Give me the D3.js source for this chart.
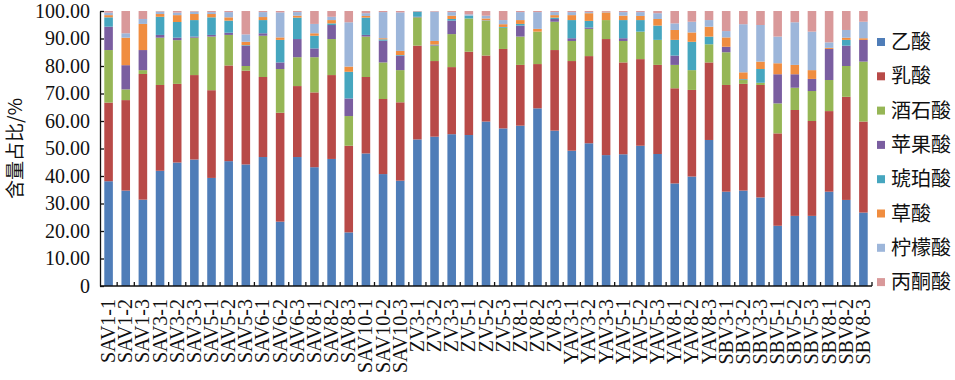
<!DOCTYPE html>
<html>
<head>
<meta charset="utf-8">
<script src="https://cdn.jsdelivr.net/npm/d3@7"></script>
<style>
  body { margin: 0; background: #fff; }
  svg text { fill: #111; }
</style>
</head>
<body>
<div id="chart"></div>
<script>
const samples = ['SAV1-1','SAV1-2','SAV1-3','SAV3-1','SAV3-2','SAV3-3','SAV5-1','SAV5-2','SAV5-3',
  'SAV6-1','SAV6-2','SAV6-3','SAV8-1','SAV8-2','SAV8-3','SAV10-1','SAV10-2','SAV10-3',
  'ZV3-1','ZV3-2','ZV3-3','ZV5-1','ZV5-2','ZV5-3','ZV8-1','ZV8-2','ZV8-3',
  'YAV3-1','YAV3-2','YAV3-3','YAV5-1','YAV5-2','YAV5-3','YAV8-1','YAV8-2','YAV8-3',
  'SBV3-1','SBV3-2','SBV3-3','SBV5-1','SBV5-2','SBV5-3','SBV8-1','SBV8-2','SBV8-3'];

const acidNames = ['乙酸','乳酸','酒石酸','苹果酸','琥珀酸','草酸','柠檬酸','丙酮酸'];

// 乙酸
const acetic = [38.1,34.7,31.4,41.9,44.9,46.0,39.3,45.4,44.2,46.9,23.4,46.9,43.2,46.2,19.5,48.2,40.7,38.3,
  53.3,54.3,55.2,54.9,59.8,57.3,58.3,64.6,56.5,49.2,51.9,47.6,47.9,51.0,48.0,37.3,39.8,53.1,
  34.3,34.7,32.2,21.9,25.5,25.5,34.3,31.3,26.7];
// 乳酸
const lactic = [28.6,32.9,45.7,31.2,28.6,30.7,31.9,34.8,34.1,29.1,39.6,25.8,27.2,30.5,31.5,27.8,27.3,28.5,
  34.1,27.5,24.4,30.3,24.0,28.9,22.1,16.1,29.3,32.6,31.7,42.2,33.4,31.5,32.4,34.6,31.5,28.2,
  38.8,38.8,40.9,33.6,38.5,34.5,29.3,37.5,33.1];
// 酒石酸
const tartaric = [19.1,3.9,1.4,17.2,15.9,13.6,19.5,11.1,1.7,15.0,15.9,10.5,12.8,13.1,10.8,14.7,13.3,11.7,
  10.3,5.6,12.0,12.1,12.6,7.7,10.3,11.8,10.3,7.3,9.9,6.9,7.8,10.0,9.1,8.5,7.2,6.6,
  11.9,1.4,0.8,10.9,8.1,10.9,11.3,11.2,21.8];
// 苹果酸
const malic = [8.5,8.8,7.3,1.0,0.9,0.4,0.6,0.8,7.4,0.9,2.4,6.6,3.2,5.1,6.4,0.6,7.9,5.3,
  0.2,0.2,4.9,0,0,0,4.0,0,1.0,1.0,0.5,0,1.0,0,0,3.4,0,0,
  2.0,0,0,10.6,4.9,4.4,11.3,7.4,7.9];
// 琥珀酸
const succinic = [3.4,0,0,6.6,5.7,6.0,6.4,4.4,0.2,4.8,8.2,7.8,4.6,0.6,9.7,6.3,0.5,0.2,
  1.9,0.2,0.6,1.0,0.2,0.3,0.6,0,0.5,6.6,2.4,0,6.6,4.2,5.2,5.7,10.3,2.8,
  0,0.3,5.0,0,0,0,0,2.1,0];
// 草酸
const oxalic = [0.8,10.0,9.5,1.0,2.5,2.2,1.2,1.2,1.2,1.1,0.9,0.7,0.9,1.2,1.9,0.6,0.4,1.5,
  0,1.3,1.2,0,0.7,1.0,1.4,1.0,0.9,1.8,2.8,2.8,1.6,1.5,2.4,3.6,3.4,3.6,
  3.4,2.5,2.7,4.0,3.4,3.2,0.4,0.8,0.6];
// 柠檬酸
const citric = [0.9,1.6,1.8,0.9,0.9,0.9,0.7,1.9,2.7,1.8,9.1,1.3,3.4,1.2,16.1,1.0,9.5,14.0,
  0,10.7,1.3,0.5,1.0,1.5,2.9,6.1,1.1,1.1,0.4,0.2,1.3,1.4,2.1,2.4,3.9,2.4,
  2.3,17.5,13.3,9.7,15.5,14.0,2.0,2.8,6.0];
// 丙酮酸
const pyruvic = [0.6,8.1,2.9,0.2,0.6,0.2,0.4,0.4,8.5,0.4,0.5,0.4,4.7,2.1,4.1,0.8,0.4,0.5,
  0.2,0.2,0.4,1.2,1.7,3.3,0.4,0.4,0.4,0.4,0.4,0.3,0.4,0.4,0.8,4.5,3.9,3.3,
  7.3,4.8,5.1,9.3,4.1,7.5,11.4,6.9,3.9];

const yTicks = [0,10,20,30,40,50,60,70,80,90,100];

const colors = ['#4F7DB8','#B84A48','#96B656','#7A5EA0','#46A6BF','#F08D40','#9DB6DA','#D9999A'];

const series = [acetic, lactic, tartaric, malic, succinic, oxalic, citric, pyruvic];
const rows = samples.map((s, i) => {
  const r = {sample: s};
  acidNames.forEach((n, k) => { r[n] = series[k][i]; });
  return r;
});

const W = 955, H = 380;
const margin = {top: 11, right: 83, bottom: 94, left: 100};
const w = W - margin.left - margin.right;
const h = H - margin.top - margin.bottom;
const serif = '"Liberation Serif", "Times New Roman", serif';
const cjk = '"Noto Sans CJK SC", sans-serif';

const svg = d3.select('#chart').append('svg')
  .attr('width', W).attr('height', H)
  .style('font-family', serif);

const g = svg.append('g').attr('transform', `translate(${margin.left},${margin.top})`);

const x = d3.scaleBand().domain(samples).range([0, w]).paddingInner(0.5).paddingOuter(0.25);
const y = d3.scaleLinear().domain([0, 100]).range([h, 0]);

const stack = d3.stack().keys(acidNames)(rows);

g.selectAll('.layer').data(stack).enter().append('g')
  .attr('class', 'layer')
  .attr('fill', (d, i) => colors[i])
  .selectAll('rect').data(d => d).enter().append('rect')
  .attr('x', d => x(d.data.sample))
  .attr('width', x.bandwidth())
  .attr('y', d => y(Math.min(100, d[1])))
  .attr('height', d => Math.max(0, y(d[0]) - y(Math.min(100, d[1]))));

// y axis
const yAxis = g.append('g')
  .call(d3.axisLeft(y).tickValues(yTicks).tickSizeInner(-4).tickSizeOuter(0).tickPadding(10)
    .tickFormat(d => d === 0 ? '0' : d3.format('.2f')(d)));
yAxis.attr('font-family', serif).attr('font-size', null);
yAxis.selectAll('text').style('font-family', serif).style('font-size', '20px').style('fill', '#111');
yAxis.selectAll('path, line').attr('stroke', '#111').attr('stroke-width', 1.3);

// x axis with ticks at band boundaries
const xAxisG = g.append('g').attr('transform', `translate(0,${h})`);
xAxisG.append('line').attr('x1', 0).attr('x2', w).attr('stroke', '#111').attr('stroke-width', 1.5);
const step = x.step();
xAxisG.selectAll('.btick').data(samples).enter().append('line')
  .attr('class', 'btick')
  .attr('x1', d => x(d) + x.bandwidth() / 2 + step / 2)
  .attr('x2', d => x(d) + x.bandwidth() / 2 + step / 2)
  .attr('y1', 0).attr('y2', -4)
  .attr('stroke', '#111').attr('stroke-width', 1.3);
xAxisG.selectAll('.xlab').data(samples).enter().append('text')
  .attr('class', 'xlab')
  .attr('transform', d => `translate(${x(d) + x.bandwidth() / 2 + 6.5},13) rotate(-90)`)
  .attr('text-anchor', 'end')
  .style('font-size', '20px')
  .text(d => d);

// y axis title
svg.append('text')
  .attr('transform', `translate(22,${margin.top + h / 2}) rotate(-90)`)
  .attr('text-anchor', 'middle')
  .style('font-family', cjk)
  .style('font-size', '19px')
  .text('含量占比/%');

// legend
const legend = svg.append('g').attr('transform', 'translate(877,42)');
const item = legend.selectAll('.li').data(acidNames).enter().append('g')
  .attr('transform', (d, i) => `translate(0,${i * 34.3})`);
item.append('rect').attr('x', 0).attr('y', -4).attr('width', 8).attr('height', 8)
  .attr('fill', (d, i) => colors[i]);
item.append('text').attr('x', 14).attr('y', 7)
  .style('font-family', cjk)
  .style('font-size', '20px')
  .text(d => d);
</script>
</body>
</html>
